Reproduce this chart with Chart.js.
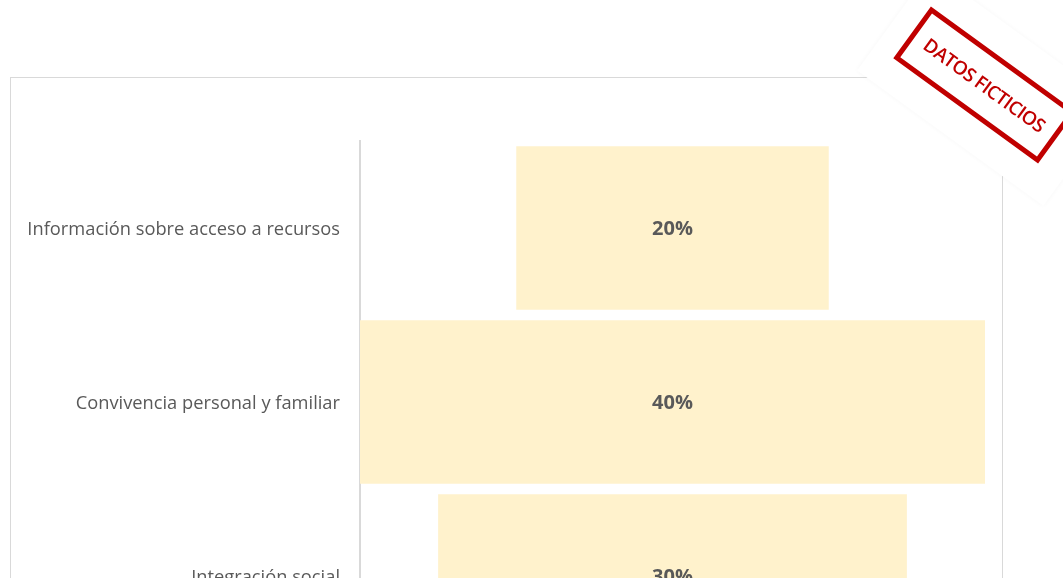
<!DOCTYPE html>
<html>
<head>
<meta charset="utf-8">
<script src="https://cdn.jsdelivr.net/npm/chart.js@4"></script>
<style>
  html, body { margin: 0; padding: 0; background: #fff; overflow: hidden; }
  body { width: 1063px; height: 578px; position: relative; }
  #marco {
    position: absolute; left: 10px; top: 77px; width: 993px; height: 700px;
    border: 1px solid #d9d9d9; box-sizing: border-box;
  }
  #grafico { position: absolute; left: 0; top: 0; }
  #tapa {
    position: absolute; left: 872px; top: 25px; width: 230px; height: 125px;
    background: #fff; transform: rotate(36deg); transform-origin: center;
    box-shadow: 0 0 5px rgba(0,0,0,0.04);
  }
  #sello {
    position: absolute; left: 895px; top: 53px; width: 179px; height: 64px;
    box-sizing: border-box; border: 5px solid #c00000;
    transform: rotate(36deg); transform-origin: center;
    color: #c00000; font: 600 19px "Open Sans", sans-serif;
    display: flex; align-items: center; justify-content: center;
    letter-spacing: -0.7px; white-space: nowrap;
  }
</style>
</head>
<body>
<div id="marco"></div>
<canvas id="grafico" width="1063" height="700"></canvas>
<div id="tapa"></div>
<div id="sello">DATOS FICTICIOS</div>
<script>
// datos del embudo
const categorias = ["Información sobre acceso a recursos", "Convivencia personal y familiar", "Integración social"];
const porcentajes = [20, 40, 30];
const etiquetas = ["20%", "40%", "30%"];

const maxValor = Math.max(...porcentajes);

// barras flotantes centradas en cero
const tramos = porcentajes.map(v => [-v / 2, v / 2]);

const etiquetasBarras = {
  id: "etiquetasBarras",
  afterDatasetsDraw(chart) {
    const { ctx } = chart;
    const meta = chart.getDatasetMeta(0);
    ctx.save();
    ctx.fillStyle = "#595959";
    ctx.font = "bold 20px 'Open Sans', sans-serif";
    ctx.textAlign = "center";
    ctx.textBaseline = "middle";
    meta.data.forEach((bar, i) => {
      ctx.fillText(etiquetas[i], bar.x - (bar.x - bar.base) / 2, bar.y + 1);
    });
    ctx.restore();
  }
};

new Chart(document.getElementById("grafico").getContext("2d"), {
  type: "bar",
  data: {
    labels: categorias,
    datasets: [{
      data: tramos,
      backgroundColor: "#fff2cc",
      borderWidth: 0,
      barPercentage: 0.94,
      categoryPercentage: 1
    }]
  },
  options: {
    indexAxis: "y",
    responsive: false,
    animation: false,
    layout: { padding: { top: 141, right: 78, bottom: 37, left: 0 } },
    plugins: { legend: { display: false }, tooltip: { enabled: false } },
    scales: {
      x: { display: false, min: -maxValor / 2, max: maxValor / 2 },
      y: {
        grid: { display: false, drawTicks: false },
        border: { display: true, color: "#d9d9d9", width: 2 },
        ticks: { color: "#595959", font: { family: "'Open Sans', sans-serif", size: 18.3 }, padding: 20, labelOffset: 2 },
        afterFit(scale) { scale.width = 360; }
      }
    }
  },
  plugins: [etiquetasBarras]
});
</script>
</body>
</html>
